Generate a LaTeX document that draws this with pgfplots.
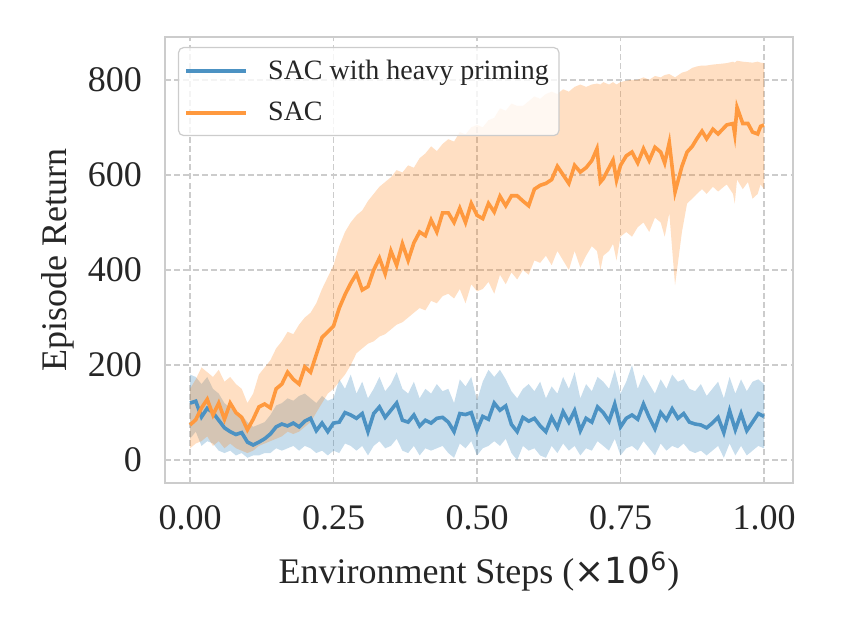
\documentclass[border=0pt]{standalone}
\usepackage{fontspec}
\setmainfont{Liberation Serif}
\newfontfamily\dejavu{DejaVu Sans}
\usepackage{pgfplots}
\usepackage{pgfplotstable}
\usepgfplotslibrary{fillbetween}
\pgfplotsset{compat=1.18}
\definecolor{cblue}{HTML}{4C92C3}
\definecolor{corange}{HTML}{FF993E}
\definecolor{tblue}{HTML}{1F77B4}
\definecolor{torange}{HTML}{FF7F0E}
\definecolor{gridc}{HTML}{CCCCCC}
\definecolor{txt}{HTML}{262626}

\pgfplotstableread{
x m lo hi
0.00 120 45 180
0.01 124 60 175
0.02 91 30 160
0.03 109 40 175
0.04 100 35 150
0.05 84 20 140
0.06 68 15 120
0.07 60 20 110
0.08 54 10 100
0.09 58 15 95
0.10 38 5 80
0.11 32 10 70
0.12 38 10 75
0.13 45 15 80
0.14 55 15 95
0.15 70 25 115
0.16 76 20 120
0.17 72 25 130
0.18 78 30 125
0.19 70 20 135
0.20 82 30 140
0.21 88 25 130
0.22 62 15 120
0.23 78 20 135
0.24 60 10 125
0.25 78 20 130
0.26 80 15 170
0.27 100 35 150
0.28 95 30 180
0.29 88 20 140
0.30 98 30 165
0.31 60 10 130
0.32 98 30 150
0.33 112 40 175
0.34 90 25 145
0.35 105 30 160
0.36 120 45 185
0.37 84 20 150
0.38 80 15 140
0.39 95 30 165
0.40 72 10 130
0.41 84 25 150
0.42 78 20 140
0.43 88 25 160
0.44 90 30 145
0.45 80 15 150
0.46 60 5 120
0.47 98 35 170
0.48 96 25 155
0.49 100 40 175
0.50 63 10 125
0.51 92 25 165
0.52 86 30 190
0.53 120 40 175
0.54 105 30 190
0.55 114 45 170
0.56 75 15 145
0.57 60 0 130
0.58 90 30 150
0.59 82 20 160
0.60 88 25 145
0.61 72 10 165
0.62 60 5 130
0.63 90 30 155
0.64 68 15 140
0.65 102 35 175
0.66 80 20 150
0.67 104 30 185
0.68 62 10 130
0.69 88 25 160
0.70 80 20 145
0.71 112 40 175
0.72 100 30 165
0.73 82 20 150
0.74 118 45 190
0.75 70 10 140
0.76 88 25 165
0.77 95 30 200
0.78 86 20 150
0.79 118 40 180
0.80 90 25 160
0.81 66 10 140
0.82 100 35 170
0.83 85 20 150
0.84 108 30 180
0.85 88 25 165
0.86 98 35 170
0.87 80 20 150
0.88 76 15 145
0.89 74 20 160
0.90 68 10 135
0.91 78 20 150
0.92 90 30 165
0.93 58 5 130
0.94 104 35 175
0.95 64 10 140
0.96 98 30 170
0.97 62 10 145
0.98 80 20 165
0.99 98 30 170
1.00 92 25 160
}\primed

\pgfplotstableread{
x m lo hi
0.00 74 25 150
0.01 85 35 170
0.02 110 40 195
0.03 128 50 185
0.04 95 30 175
0.05 120 40 190
0.06 86 25 165
0.07 120 35 175
0.08 100 25 160
0.09 90 20 150
0.10 64 15 120
0.11 86 20 140
0.12 112 30 180
0.13 118 35 195
0.14 110 40 210
0.15 150 45 235
0.16 160 50 250
0.17 185 60 270
0.18 170 55 265
0.19 160 60 285
0.20 196 70 300
0.21 185 80 310
0.22 222 100 330
0.23 258 120 360
0.24 270 140 385
0.25 282 150 410
0.26 320 165 450
0.27 348 180 480
0.28 372 200 500
0.29 392 225 515
0.30 358 235 525
0.31 365 245 545
0.32 400 250 560
0.33 425 260 575
0.34 392 265 585
0.35 440 275 595
0.36 410 285 610
0.37 455 290 605
0.38 420 300 620
0.39 457 310 615
0.40 480 320 635
0.41 472 315 645
0.42 505 335 660
0.43 480 330 650
0.44 520 345 665
0.45 520 350 675
0.46 500 340 670
0.47 530 360 690
0.48 500 330 685
0.49 540 370 700
0.50 515 355 705
0.51 508 360 700
0.52 540 375 715
0.53 522 350 720
0.54 555 390 740
0.55 535 370 735
0.56 556 395 750
0.57 556 380 745
0.58 545 400 745
0.59 535 390 755
0.60 570 420 765
0.61 578 415 760
0.62 582 430 770
0.63 590 410 775
0.64 618 440 770
0.65 600 420 780
0.66 582 400 775
0.67 620 440 785
0.68 606 405 790
0.69 615 430 785
0.70 630 450 790
0.709 655 440 792
0.715 585 400 790
0.72 592 430 795
0.73 615 440 790
0.737 631 455 795
0.743 589 420 790
0.75 620 470 795
0.76 640 480 798
0.77 648 470 800
0.78 625 490 800
0.79 655 500 805
0.80 630 480 800
0.81 658 510 808
0.82 648 500 805
0.827 625 470 810
0.835 668 520 812
0.845 564 368 805
0.857 618 480 815
0.866 648 540 818
0.875 660 550 825
0.883 676 560 828
0.892 692 570 830
0.90 676 560 830
0.911 696 575 832
0.92 686 565 833
0.935 705 580 835
0.946 708 560 838
0.949 686 540 836
0.953 742 590 840
0.963 708 570 838
0.972 708 585 837
0.98 690 550 836
0.989 686 560 838
0.994 702 580 836
1.00 705 570 835
}\sac

\begin{document}
\begin{tikzpicture}
\begin{axis}[
  scale only axis, width=314pt, height=223pt,
  at={(0,0)}, anchor=south west,
  xmin=-0.0436, xmax=1.0505, ymin=-48, ymax=890,
  xtick={0,0.25,0.5,0.75,1}, xticklabels={0.00,0.25,0.50,0.75,1.00},
  ytick={0,200,400,600,800},
  grid=major,
  major grid style={gridc, dash pattern=on 3pt off 1.6pt, line width=0.75pt},
  axis line style={gridc, line width=0.7pt},
  tick style={draw=none},
  /pgf/number format/assume math mode=true,
  ticklabel style={font=\fontsize{18}{20}\selectfont, text=txt},
  xticklabel style={yshift=-8pt},
  yticklabel style={xshift=-8pt},
  label style={font=\fontsize{18}{20}\selectfont, text=txt},
  xlabel={Environment Steps ({\dejavu ×10\textsuperscript{6}})},
  ylabel={Episode Return},
  xlabel style={yshift=-4pt},
  ylabel style={yshift=0pt},
  legend cell align=left,
  legend image code/.code={\draw[#1, line width=1.8pt] (0pt,0pt) -- (30pt,0pt);\path (38pt,0pt);},
  legend style={at={(axis description cs:0,1)}, anchor=north west,
    xshift=6.5pt, yshift=-5pt, draw=gridc, line width=0.6pt,
    rounded corners=2.5pt, fill=white, fill opacity=0.8, text opacity=1,
    font=\fontsize{14}{16}\selectfont, text=txt,
    inner xsep=3pt, inner ysep=4pt, row sep=6pt},
]
\addplot[draw=none, name path=bh, forget plot] table[x=x, y=hi] {\primed};
\addplot[draw=none, name path=bl, forget plot] table[x=x, y=lo] {\primed};
\addplot[tblue, fill opacity=0.25, draw=none, forget plot] fill between[of=bh and bl];
\addplot[cblue, line width=1.8pt] table[x=x, y=m] {\primed};
\addlegendentry{SAC with heavy priming}

\addplot[draw=none, name path=oh, forget plot] table[x=x, y=hi] {\sac};
\addplot[draw=none, name path=ol, forget plot] table[x=x, y=lo] {\sac};
\addplot[torange, fill opacity=0.25, draw=none, forget plot] fill between[of=oh and ol];
\addplot[corange, line width=1.8pt] table[x=x, y=m] {\sac};
\addlegendentry{SAC}
\end{axis}
\pgfresetboundingbox
\useasboundingbox (-82.5pt,-73.5pt) rectangle (349.5pt,241.5pt);
\end{tikzpicture}
\end{document}
